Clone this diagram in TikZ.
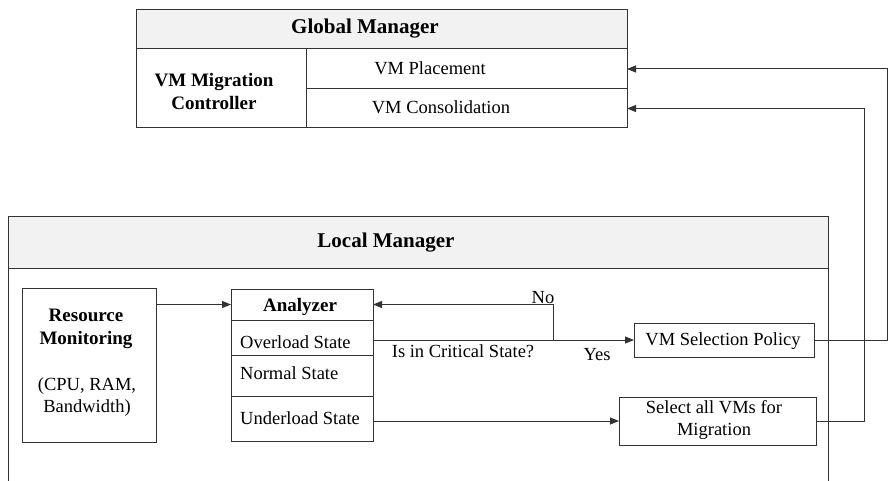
\documentclass[tikz,border=0pt]{standalone}
\usepackage{fontspec}
\setmainfont{Liberation Serif}
\newfontfamily\tnr{Liberation Serif}
\usetikzlibrary{arrows.meta}
\begin{document}
\begin{tikzpicture}[x=1pt,y=-1pt,
 line/.style={draw=black!80, line width=1pt},
 arr/.style={line, -{Triangle[length=9pt,width=7pt]}},
 cell/.style={line, rectangle, inner sep=0pt, outer sep=0pt, anchor=north west},
 hdr/.style={font=\tnr\fontsize{21}{24}\selectfont\bfseries, inner sep=0pt},
 txt/.style={font=\tnr\fontsize{18.5}{22}\selectfont, align=center, inner sep=0pt},
 btxt/.style={font=\tnr\fontsize{19}{23}\selectfont\bfseries, align=center, inner sep=0pt}]
\useasboundingbox[fill=white] (0,0) rectangle (888,481);

% Global Manager
\node[cell, minimum width=491pt, minimum height=39pt, fill=black!5] (gmh) at (136,10) {};
\node[cell, minimum width=170pt, minimum height=79pt] (gmc) at (136,49) {};
\node[cell, minimum width=321pt, minimum height=40pt] (place) at (306,49) {};
\node[cell, minimum width=321pt, minimum height=39pt] (consol) at (306,89) {};
\node[hdr] (tgm) at (365,29) {Global Manager};
\node[btxt] (tgc) at (214,92) {VM Migration\\Controller};
\node[txt] (tpl) at (430,68) {VM Placement};
\node[txt] (tco) at (441,107) {VM Consolidation};

% Local Manager
\node[cell, minimum width=820pt, minimum height=52pt, fill=black!5] (lmh) at (8,216) {};
\coordinate (lmbl) at (8,481);
\coordinate (lmbr) at (828,481);
\draw[line] (lmh.south west) -- (lmbl);
\draw[line] (lmh.south east) -- (lmbr);
\node[hdr] (tlm) at (386,243) {Local Manager};

% Resource monitoring
\node[cell, minimum width=134pt, minimum height=154pt] (rm) at (22,288) {};
\node[btxt] (trm) at (86,329) {Resource\\Monitoring};
\node[txt] (trm2) at (87,397) {(CPU, RAM,\\Bandwidth)};

% Analyzer
\node[cell, minimum width=142pt, minimum height=31pt] (ahead) at (231,289) {};
\node[cell, minimum width=142pt, minimum height=35pt] (aover) at (231,320) {};
\node[cell, minimum width=142pt, minimum height=41pt] (anorm) at (231,355) {};
\node[cell, minimum width=142pt, minimum height=45pt] (aunder) at (231,396) {};
\node[btxt] (tan) at (300,307) {Analyzer};
\node[txt, anchor=west] (tov) at (240,342) {Overload State};
\node[txt, anchor=west] (tno) at (240,373) {Normal State};
\node[txt, anchor=west] (tun) at (240,418) {Underload State};

% Right-hand boxes
\node[cell, minimum width=180pt, minimum height=34pt] (vmsel) at (634,323) {};
\node[txt] (tvs) at (723,341) {VM Selection Policy};
\node[cell, minimum width=197pt, minimum height=48pt] (selall) at (619,397) {};
\node[txt] (tsa) at (714,420) {Select all VMs for\\Migration};

% Labels
\node[txt] (lno) at (543,298) {No};
\node[txt] (lcrit) at (463,351) {Is in Critical State?};
\node[txt] (lyes) at (597,355) {Yes};

% Connectors
\draw[arr] (rm.east |- ahead.west) -- (ahead.west);
\coordinate (nj) at (553,340);
\draw[arr] (aover.east |- vmsel.west) -- (vmsel.west);
\draw[arr] (nj) |- (ahead.east);
\draw[arr] (aunder.east |- selall.west) -- (selall.west);
\coordinate (r1) at (887,0);
\coordinate (r2) at (864,0);
\draw[arr] (vmsel.east) -| (r1 |- place.east) -- (place.east);
\draw[arr] (selall.east) -| (r2 |- consol.east) -- (consol.east);
\end{tikzpicture}
\end{document}
